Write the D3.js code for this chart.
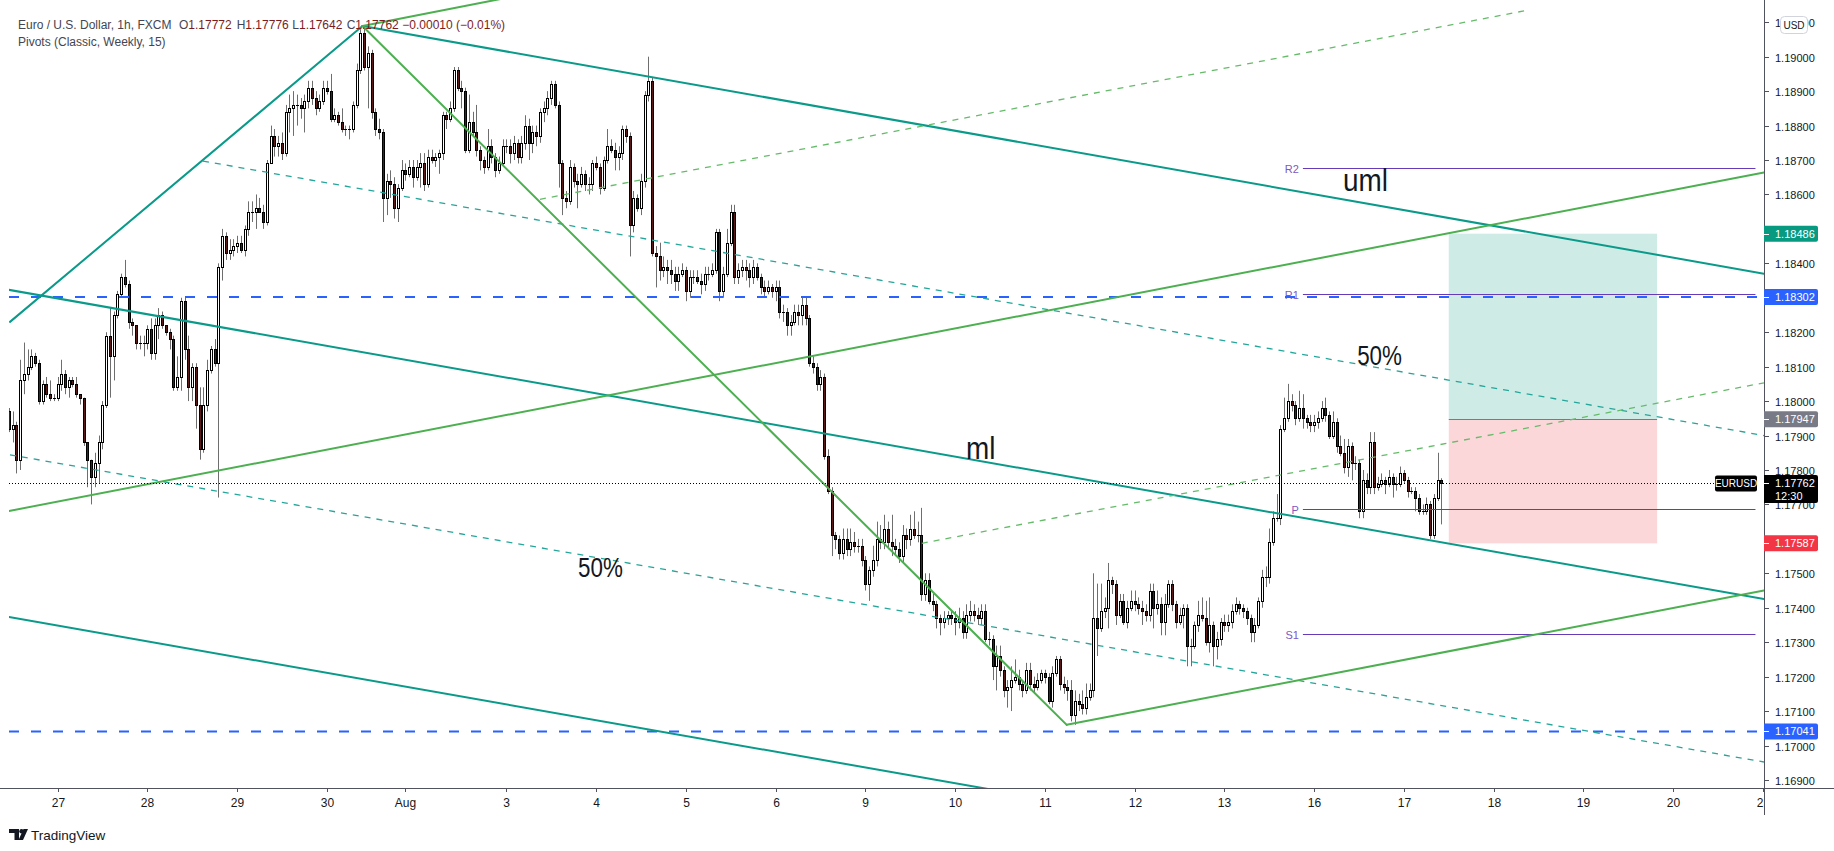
<!DOCTYPE html>
<html><head><meta charset="utf-8">
<script src="https://cdn.jsdelivr.net/npm/d3@7"></script>
<style>
html,body{margin:0;padding:0;background:#fff;}
svg{display:block;}
text{font-family:"Liberation Sans",Arial,sans-serif;}
</style></head><body>
<svg id="chart" width="1834" height="851"></svg>
<script>
// ---------------- DATA ----------------
// hourly bars; bar index 0 = Jul 27 00:00, first bar is index -13
const startIndex = -13;
const opens = [
1.1797,1.1792,1.1793,1.1783,1.1806,1.1808,1.1810,1.1813,1.1811,1.1800,
1.1805,1.1802,1.1801,1.1801,1.1805,1.1808,1.1804,1.1806,1.1805,1.1802,
1.1801,1.1788,1.1783,1.1778,1.1782,1.1788,1.1799,1.1819,1.1813,1.1825,
1.1831,1.1836,1.1834,1.1823,1.1822,1.1817,1.1817,1.1817,1.1821,1.1814,
1.1822,1.1825,1.1822,1.1820,1.1818,1.1804,1.1807,1.1829,1.1815,1.1804,
1.1810,1.1799,1.1786,1.1799,1.1809,1.1815,1.1811,1.1839,1.1848,1.1843,
1.1844,1.1845,1.1846,1.1844,1.1850,1.1855,1.1855,1.1856,1.1855,1.1852,
1.1869,1.1877,1.1874,1.1875,1.1872,1.1884,1.1885,1.1886,1.1886,1.1885,
1.1887,1.1891,1.1888,1.1885,1.1887,1.1891,1.1890,1.1882,1.1883,1.1881,
1.1879,1.1879,1.1879,1.1886,1.1896,1.1907,1.1897,1.1901,1.1884,1.1879,
1.1878,1.1859,1.1864,1.1863,1.1856,1.1862,1.1867,1.1866,1.1868,1.1865,
1.1868,1.1869,1.1863,1.1871,1.1870,1.1871,1.1872,1.1883,1.1882,1.1885,
1.1896,1.1891,1.1890,1.1873,1.1881,1.1878,1.1873,1.1870,1.1868,1.1874,
1.1871,1.1867,1.1869,1.1874,1.1874,1.1872,1.1875,1.1871,1.1875,1.1880,
1.1875,1.1878,1.1877,1.1884,1.1885,1.1888,1.1892,1.1886,1.1869,1.1859,
1.1858,1.1868,1.1864,1.1863,1.1866,1.1863,1.1863,1.1869,1.1868,1.1862,
1.1870,1.1874,1.1873,1.1871,1.1872,1.1879,1.1877,1.1851,1.1859,1.1856,
1.1864,1.1889,1.1893,1.1843,1.1842,1.1838,1.1839,1.1838,1.1837,1.1835,
1.1837,1.1838,1.1832,1.1836,1.1836,1.1835,1.1834,1.1837,1.1837,1.1838,
1.1849,1.1832,1.1837,1.1846,1.1855,1.1836,1.1838,1.1839,1.1838,1.1836,
1.1839,1.1836,1.1833,1.1832,1.1833,1.1832,1.1833,1.1826,1.1826,1.1822,
1.1823,1.1826,1.1825,1.1828,1.1824,1.1811,1.1810,1.1805,1.1807,1.1784,
1.1774,1.1761,1.1760,1.1756,1.1760,1.1757,1.1759,1.1758,1.1758,1.1754,
1.1747,1.1751,1.1754,1.1760,1.1759,1.1763,1.1759,1.1758,1.1757,1.1755,
1.1761,1.1760,1.1763,1.1761,1.1761,1.1744,1.1748,1.1742,1.1741,1.1737,
1.1736,1.1737,1.1738,1.1737,1.1736,1.1737,1.1733,1.1738,1.1739,1.1738,
1.1737,1.1739,1.1731,1.1731,1.1723,1.1726,1.1722,1.1716,1.1717,1.1719,
1.1720,1.1718,1.1716,1.1722,1.1718,1.1717,1.1719,1.1721,1.1720,1.1713,
1.1721,1.1725,1.1718,1.1717,1.1716,1.1709,1.1713,1.1712,1.1711,1.1714,
1.1716,1.1737,1.1734,1.1739,1.1740,1.1748,1.1747,1.1738,1.1742,1.1736,
1.1740,1.1742,1.1741,1.1740,1.1739,1.1738,1.1745,1.1740,1.1741,1.1736,
1.1741,1.1747,1.1741,1.1736,1.1738,1.1740,1.1729,1.1729,1.1735,1.1738,
1.1737,1.1730,1.1735,1.1729,1.1731,1.1736,1.1735,1.1736,1.1739,1.1741,
1.1740,1.1739,1.1737,1.1733,1.1735,1.1742,1.1749,1.1749,1.1759,1.1766,
1.1766,1.1792,1.1795,1.1800,1.1799,1.1795,1.1798,1.1795,1.1794,1.1793,
1.1794,1.1795,1.1798,1.1796,1.1790,1.1794,1.1787,1.1785,1.1781,1.1787,
1.1782,1.1782,1.1768,1.1777,1.1775,1.1788,1.1775,1.1776,1.1777,1.1776,
1.1778,1.1776,1.1776,1.1779,1.1777,1.1774,1.1774,1.1772,1.1768,1.1768,
1.1770,1.1761,1.1772,1.17772];
const highs = [
1.1798,1.1797,1.1794,1.1812,1.1817,1.1815,1.1815,1.1814,1.1812,1.1806,
1.1807,1.1806,1.1802,1.1807,1.1812,1.1809,1.1807,1.1807,1.1807,1.1802,
1.1801,1.1788,1.1783,1.1785,1.1790,1.1800,1.1820,1.1827,1.1826,1.1832,
1.1837,1.1841,1.1835,1.1824,1.1822,1.1819,1.1819,1.1822,1.1824,1.1824,
1.1827,1.1826,1.1822,1.1821,1.1819,1.1813,1.1830,1.1830,1.1819,1.1811,
1.1811,1.1804,1.1804,1.1812,1.1816,1.1818,1.1840,1.1850,1.1849,1.1847,
1.1847,1.1848,1.1848,1.1851,1.1858,1.1858,1.1860,1.1859,1.1857,1.1870,
1.1880,1.1879,1.1877,1.1878,1.1886,1.1889,1.1890,1.1889,1.1888,1.1889,
1.1893,1.1893,1.1890,1.1889,1.1893,1.1893,1.1895,1.1885,1.1884,1.1885,
1.1880,1.1880,1.1887,1.1898,1.1908,1.1909,1.1903,1.1902,1.1885,1.1882,
1.1879,1.1866,1.1867,1.1865,1.1863,1.1870,1.1869,1.1870,1.1870,1.1870,
1.1872,1.1872,1.1873,1.1873,1.1872,1.1873,1.1884,1.1884,1.1887,1.1897,
1.1897,1.1893,1.1891,1.1889,1.1884,1.1886,1.1874,1.1871,1.1879,1.1876,
1.1872,1.1871,1.1876,1.1876,1.1876,1.1877,1.1876,1.1877,1.1883,1.1882,
1.1880,1.1880,1.1885,1.1887,1.1890,1.1893,1.1893,1.1887,1.1870,1.1861,
1.1870,1.1869,1.1866,1.1868,1.1867,1.1865,1.1870,1.1871,1.1869,1.1871,
1.1879,1.1876,1.1875,1.1874,1.1880,1.1880,1.1878,1.1861,1.1860,1.1866,
1.1890,1.1900,1.1894,1.1845,1.1846,1.1842,1.1841,1.1841,1.1839,1.1839,
1.1840,1.1839,1.1838,1.1838,1.1838,1.1837,1.1839,1.1839,1.1840,1.1850,
1.1850,1.1839,1.1850,1.1857,1.1857,1.1840,1.1841,1.1841,1.1840,1.1841,
1.1840,1.1837,1.1835,1.1835,1.1834,1.1835,1.1835,1.1828,1.1827,1.1825,
1.1828,1.1828,1.1830,1.1830,1.1825,1.1813,1.1811,1.1809,1.1808,1.1786,
1.1775,1.1762,1.1761,1.1763,1.1763,1.1763,1.1762,1.1760,1.1760,1.1755,
1.1752,1.1758,1.1765,1.1764,1.1767,1.1765,1.1767,1.1760,1.1759,1.1764,
1.1763,1.1767,1.1768,1.1765,1.1769,1.1750,1.1750,1.1744,1.1742,1.1738,
1.1739,1.1739,1.1739,1.1739,1.1740,1.1739,1.1741,1.1742,1.1741,1.1740,
1.1741,1.1741,1.1733,1.1732,1.1729,1.1729,1.1723,1.1719,1.1723,1.1725,
1.1722,1.1719,1.1724,1.1724,1.1720,1.1721,1.1722,1.1722,1.1721,1.1723,
1.1726,1.1726,1.1720,1.1719,1.1719,1.1716,1.1715,1.1716,1.1718,1.1718,
1.1750,1.1747,1.1747,1.1743,1.1753,1.1749,1.1748,1.1744,1.1744,1.1742,
1.1745,1.1745,1.1743,1.1742,1.1741,1.1747,1.1747,1.1745,1.1743,1.1744,
1.1748,1.1748,1.1742,1.1740,1.1741,1.1741,1.1731,1.1736,1.1742,1.1743,
1.1742,1.1743,1.1736,1.1733,1.1737,1.1738,1.1738,1.1741,1.1743,1.1742,
1.1741,1.1740,1.1738,1.1737,1.1743,1.1751,1.1752,1.1763,1.1768,1.1773,
1.1793,1.1801,1.1805,1.1802,1.1800,1.1803,1.1802,1.1796,1.1796,1.1796,
1.1797,1.1800,1.1801,1.1797,1.1797,1.1795,1.1790,1.1789,1.1789,1.1788,
1.1784,1.1783,1.1780,1.1779,1.1791,1.1791,1.1778,1.1779,1.1778,1.1780,
1.1779,1.1778,1.1781,1.1780,1.1778,1.1775,1.1775,1.1773,1.1770,1.1772,
1.1771,1.1773,1.1785,1.17776];
const lows = [
1.1791,1.1788,1.1779,1.1780,1.1802,1.1806,1.1809,1.1810,1.1799,1.1799,
1.1801,1.1800,1.1800,1.1800,1.1803,1.1802,1.1801,1.1804,1.1801,1.1799,
1.1787,1.1775,1.1770,1.1775,1.1776,1.1786,1.1798,1.1801,1.1806,1.1824,
1.1830,1.1833,1.1821,1.1819,1.1815,1.1815,1.1813,1.1815,1.1812,1.1812,
1.1818,1.1821,1.1819,1.1815,1.1803,1.1803,1.1803,1.1812,1.1800,1.1800,
1.1792,1.1783,1.1785,1.1797,1.1808,1.1810,1.1772,1.1835,1.1841,1.1841,
1.1842,1.1843,1.1843,1.1842,1.1848,1.1852,1.1850,1.1855,1.1850,1.1851,
1.1869,1.1871,1.1871,1.1870,1.1871,1.1878,1.1877,1.1880,1.1882,1.1878,
1.1885,1.1886,1.1883,1.1884,1.1886,1.1889,1.1881,1.1881,1.1880,1.1878,
1.1877,1.1876,1.1878,1.1885,1.1895,1.1896,1.1885,1.1882,1.1877,1.1876,
1.1852,1.1854,1.1859,1.1853,1.1852,1.1861,1.1864,1.1865,1.1862,1.1864,
1.1862,1.1861,1.1862,1.1869,1.1868,1.1866,1.1870,1.1879,1.1881,1.1884,
1.1890,1.1885,1.1872,1.1872,1.1877,1.1871,1.1867,1.1866,1.1867,1.1869,
1.1865,1.1866,1.1868,1.1872,1.1869,1.1870,1.1869,1.1869,1.1873,1.1870,
1.1872,1.1874,1.1875,1.1881,1.1883,1.1886,1.1885,1.1862,1.1854,1.1856,
1.1857,1.1862,1.1856,1.1862,1.1861,1.1860,1.1861,1.1867,1.1860,1.1861,
1.1869,1.1872,1.1867,1.1867,1.1870,1.1875,1.1842,1.1849,1.1855,1.1854,
1.1862,1.1887,1.1842,1.1833,1.1835,1.1836,1.1834,1.1834,1.1832,1.1832,
1.1836,1.1829,1.1830,1.1834,1.1834,1.1831,1.1832,1.1835,1.1836,1.1837,
1.1829,1.1830,1.1836,1.1845,1.1834,1.1834,1.1836,1.1835,1.1833,1.1834,
1.1835,1.1831,1.1830,1.1831,1.1830,1.1829,1.1824,1.1823,1.1819,1.1819,
1.1822,1.1822,1.1822,1.1822,1.1810,1.1808,1.1803,1.1803,1.1783,1.1773,
1.1755,1.1757,1.1754,1.1754,1.1755,1.1755,1.1756,1.1756,1.1752,1.1745,
1.1742,1.1749,1.1752,1.1757,1.1757,1.1757,1.1755,1.1755,1.1753,1.1753,
1.1757,1.1758,1.1760,1.1759,1.1742,1.1742,1.1741,1.1739,1.1734,1.1732,
1.1734,1.1735,1.1735,1.1732,1.1734,1.1731,1.1731,1.1736,1.1736,1.1735,
1.1735,1.1730,1.1729,1.1719,1.1716,1.1720,1.1714,1.1711,1.1710,1.1718,
1.1716,1.1714,1.1715,1.1716,1.1715,1.1716,1.1718,1.1718,1.1712,1.1711,
1.1720,1.1716,1.1715,1.1713,1.1707,1.1706,1.1710,1.1709,1.1709,1.1713,
1.1714,1.1726,1.1733,1.1737,1.1734,1.1744,1.1735,1.1737,1.1735,1.1734,
1.1739,1.1739,1.1738,1.1735,1.1736,1.1736,1.1734,1.1738,1.1732,1.1732,
1.1740,1.1739,1.1734,1.1735,1.1734,1.1723,1.1723,1.1728,1.1733,1.1736,
1.1729,1.1727,1.1723,1.1725,1.1729,1.1733,1.1733,1.1734,1.1738,1.1738,
1.1737,1.1735,1.1730,1.1730,1.1734,1.1740,1.1746,1.1747,1.1758,1.1765,
1.1764,1.1791,1.1794,1.1797,1.1793,1.1794,1.1792,1.1792,1.1791,1.1791,
1.1792,1.1794,1.1794,1.1789,1.1789,1.1785,1.1784,1.1779,1.1778,1.1777,
1.1780,1.1766,1.1766,1.1773,1.1773,1.1773,1.1774,1.1775,1.1773,1.1775,
1.1772,1.1774,1.1775,1.1776,1.1772,1.1773,1.1768,1.1767,1.1767,1.1767,
1.1760,1.1760,1.1771,1.17642];
const closes = [
1.1792,1.1793,1.1783,1.1806,1.1808,1.1810,1.1813,1.1811,1.1800,1.1805,
1.1802,1.1801,1.1801,1.1805,1.1808,1.1804,1.1806,1.1805,1.1802,1.1801,
1.1788,1.1783,1.1778,1.1782,1.1788,1.1799,1.1819,1.1813,1.1825,1.1831,
1.1836,1.1834,1.1823,1.1822,1.1817,1.1817,1.1817,1.1821,1.1814,1.1822,
1.1825,1.1822,1.1820,1.1818,1.1804,1.1807,1.1829,1.1815,1.1804,1.1810,
1.1799,1.1786,1.1799,1.1809,1.1815,1.1811,1.1839,1.1848,1.1843,1.1844,
1.1845,1.1846,1.1844,1.1850,1.1855,1.1855,1.1856,1.1855,1.1852,1.1869,
1.1877,1.1874,1.1875,1.1872,1.1884,1.1885,1.1886,1.1886,1.1885,1.1887,
1.1891,1.1888,1.1885,1.1887,1.1891,1.1890,1.1882,1.1883,1.1881,1.1879,
1.1879,1.1879,1.1886,1.1896,1.1907,1.1897,1.1901,1.1884,1.1879,1.1878,
1.1859,1.1864,1.1863,1.1856,1.1862,1.1867,1.1866,1.1868,1.1865,1.1868,
1.1869,1.1863,1.1871,1.1870,1.1871,1.1872,1.1883,1.1882,1.1885,1.1896,
1.1891,1.1890,1.1873,1.1881,1.1878,1.1873,1.1870,1.1868,1.1874,1.1871,
1.1867,1.1869,1.1874,1.1874,1.1872,1.1875,1.1871,1.1875,1.1880,1.1875,
1.1878,1.1877,1.1884,1.1885,1.1888,1.1892,1.1886,1.1869,1.1859,1.1858,
1.1868,1.1864,1.1863,1.1866,1.1863,1.1863,1.1869,1.1868,1.1862,1.1870,
1.1874,1.1873,1.1871,1.1872,1.1879,1.1877,1.1851,1.1859,1.1856,1.1864,
1.1889,1.1893,1.1843,1.1842,1.1838,1.1839,1.1838,1.1837,1.1835,1.1837,
1.1838,1.1832,1.1836,1.1836,1.1835,1.1834,1.1837,1.1837,1.1838,1.1849,
1.1832,1.1837,1.1846,1.1855,1.1836,1.1838,1.1839,1.1838,1.1836,1.1839,
1.1836,1.1833,1.1832,1.1833,1.1832,1.1833,1.1826,1.1826,1.1822,1.1823,
1.1826,1.1825,1.1828,1.1824,1.1811,1.1810,1.1805,1.1807,1.1784,1.1774,
1.1761,1.1760,1.1756,1.1760,1.1757,1.1759,1.1758,1.1758,1.1754,1.1747,
1.1751,1.1754,1.1760,1.1759,1.1763,1.1759,1.1758,1.1757,1.1755,1.1761,
1.1760,1.1763,1.1761,1.1761,1.1744,1.1748,1.1742,1.1741,1.1737,1.1736,
1.1737,1.1738,1.1737,1.1736,1.1737,1.1733,1.1738,1.1739,1.1738,1.1737,
1.1739,1.1731,1.1731,1.1723,1.1726,1.1722,1.1716,1.1717,1.1719,1.1720,
1.1718,1.1716,1.1722,1.1718,1.1717,1.1719,1.1721,1.1720,1.1713,1.1721,
1.1725,1.1718,1.1717,1.1716,1.1709,1.1713,1.1712,1.1711,1.1714,1.1716,
1.1737,1.1734,1.1739,1.1740,1.1748,1.1747,1.1738,1.1742,1.1736,1.1740,
1.1742,1.1741,1.1740,1.1739,1.1738,1.1745,1.1740,1.1741,1.1736,1.1741,
1.1747,1.1741,1.1736,1.1738,1.1740,1.1729,1.1729,1.1735,1.1738,1.1737,
1.1730,1.1735,1.1729,1.1731,1.1736,1.1735,1.1736,1.1739,1.1741,1.1740,
1.1739,1.1737,1.1733,1.1735,1.1742,1.1749,1.1749,1.1759,1.1766,1.1766,
1.1792,1.1795,1.1800,1.1799,1.1795,1.1798,1.1795,1.1794,1.1793,1.1794,
1.1795,1.1798,1.1796,1.1790,1.1794,1.1787,1.1785,1.1781,1.1787,1.1782,
1.1782,1.1768,1.1777,1.1775,1.1788,1.1775,1.1776,1.1777,1.1776,1.1778,
1.1776,1.1776,1.1779,1.1777,1.1774,1.1774,1.1772,1.1768,1.1768,1.1770,
1.1761,1.1772,1.17772,1.17762];

// time axis (bar index of each day tick) and labels
const timeTickIdx = [0,24,48,72,93,120,144,168,192,216,240,264,288,312,336,360,384,408,432,456];
const timeTickLabels = ["27","28","29","30","Aug","3","4","5","6","9","10","11","12","13","16","17","18","19","20","23"];
// price axis ticks
const priceTicks = [1.169,1.170,1.171,1.172,1.173,1.174,1.175,1.176,1.177,1.178,1.179,1.180,1.181,1.182,1.183,1.184,1.185,1.186,1.187,1.188,1.189,1.190,1.191];

// weekly classic pivots
const pivotNames = ["R2","R1","P","S1"];
const pivotValues = [1.18676,1.18312,1.17686,1.17323];
const pivotStartIdx = 333, pivotEndIdx = 454;

// horizontal blue levels
const hLevels = [1.18302,1.17041];

// long position tool
const posTarget = 1.18486, posEntry = 1.17947, posStop = 1.17587;
const posStartIdx = 372, posEndIdx = 427.7;

// trend-line drawings (bar index, price)
const lineNames = ["T1","T2","T3","T4","TD1","TD2","G1","G2","G3","G4","GD1","GD2"];
const lineIdx0  = [-12.70, 81.55, -12.97, -12.97, 38.9, -12.70, 81.55, 81.55, 269.84, -12.97, 129.0, 231.1];
const linePx0   = [1.18230,1.19089,1.18323,1.17373,1.18697,1.17844,1.19089,1.19089,1.17060,1.17681,1.18586,1.17587];
const lineIdx1  = [81.55, 456.28, 456.28, 456.28, 456.28, 456.28, 145.0, 269.84, 456.28, 456.28, 392.6, 456.28];
const linePx1   = [1.19089,1.18370,1.17425,1.16478,1.17900,1.16952,1.19224,1.17060,1.17450,1.18664,1.19134,1.18053];

// text annotations (bar index, price at baseline)
const noteTexts = ["uml","50%","ml","50%"];
const noteIdx   = [343.7, 347.5, 242.9, 139.2];
const notePx    = [1.18610, 1.18105, 1.17832, 1.17489];

const symbolName = "EURUSD";
const countdown = "12:30";

// ---------------- STYLE / LAYOUT ----------------
const W = 1834, H = 851;
const plotLeft = 9, plotRight = 1764, plotBottom = 788;
const lineStyle = {
  T1:{c:"#0a9a8a",w:2,d:null}, T2:{c:"#0a9a8a",w:2,d:null}, T3:{c:"#0a9a8a",w:2,d:null}, T4:{c:"#0a9a8a",w:2,d:null},
  TD1:{c:"#26a69a",w:1.3,d:"6,6"}, TD2:{c:"#26a69a",w:1.3,d:"6,6"},
  G1:{c:"#4caf50",w:2,d:null}, G2:{c:"#4caf50",w:2,d:null}, G3:{c:"#4caf50",w:2,d:null}, G4:{c:"#4caf50",w:2,d:null},
  GD1:{c:"#66bb6a",w:1.3,d:"6,6"}, GD2:{c:"#66bb6a",w:1.3,d:"6,6"}
};
const noteStyle = [{fs:31,sx:0.9},{fs:28,sx:0.8},{fs:31,sx:0.9},{fs:28,sx:0.8}];

const x = d3.scaleLinear().domain([0,456]).range([57.5, 57.5+456*3.74]);
const y = d3.scaleLinear().domain([1.17,1.19]).range([745.5, 56.7]);

const svg = d3.select("#chart");
svg.append("rect").attr("width",W).attr("height",H).attr("fill","#fff");
const defs = svg.append("defs");
defs.append("clipPath").attr("id","plotClip").append("rect")
  .attr("x",plotLeft).attr("y",0).attr("width",plotRight-plotLeft).attr("height",plotBottom);
defs.append("clipPath").attr("id","timeClip").append("rect")
  .attr("x",0).attr("y",plotBottom).attr("width",plotRight).attr("height",H-plotBottom);

const plot = svg.append("g").attr("clip-path","url(#plotClip)");

// candles
const candles = opens.map((o,i)=>({i:startIndex+i,o,h:highs[i],l:lows[i],c:closes[i]}));
const cg = plot.append("g");
candles.forEach(d=>{
  const cx = Math.round(x(d.i));
  const hi = Math.max(d.h,d.o,d.c), lo = Math.min(d.l,d.o,d.c);
  cg.append("line").attr("x1",cx+0.5).attr("x2",cx+0.5)
    .attr("y1",y(hi)).attr("y2",y(lo)).attr("stroke","#6e6e6e").attr("stroke-width",1);
  const top = y(Math.max(d.o,d.c)), bot = y(Math.min(d.o,d.c));
  const up = d.c >= d.o;
  cg.append("rect").attr("x",cx-0.5).attr("y",Math.round(top)+0.5)
    .attr("width",2).attr("height",Math.max(0.01,Math.round(bot)-Math.round(top)))
    .attr("fill",up?"#ffffff":"#5c1717").attr("stroke","#000").attr("stroke-width",1);
});

// position tool boxes
plot.append("rect").attr("x",x(posStartIdx)).attr("width",x(posEndIdx)-x(posStartIdx))
  .attr("y",y(posTarget)).attr("height",y(posEntry)-y(posTarget)).attr("fill","rgba(8,153,129,0.2)");
plot.append("rect").attr("x",x(posStartIdx)).attr("width",x(posEndIdx)-x(posStartIdx))
  .attr("y",y(posEntry)).attr("height",y(posStop)-y(posEntry)).attr("fill","rgba(242,54,69,0.2)");
plot.append("line").attr("x1",x(posStartIdx)).attr("x2",x(posEndIdx))
  .attr("y1",Math.round(y(posEntry))+0.5).attr("y2",Math.round(y(posEntry))+0.5)
  .attr("stroke","#787b86").attr("stroke-width",1);

// pivots
pivotValues.forEach((v,k)=>{
  const yy = Math.round(y(v))+0.5;
  plot.append("line").attr("x1",x(pivotStartIdx)).attr("x2",x(pivotEndIdx)).attr("y1",yy).attr("y2",yy)
    .attr("stroke","#673ab7").attr("stroke-width",1.2);
  plot.append("text").attr("x",x(pivotStartIdx)-4).attr("y",yy+4).attr("text-anchor","end")
    .attr("font-size",11).attr("fill","#7e57c2").text(pivotNames[k]);
});

// blue dashed levels
hLevels.forEach(v=>{
  plot.append("line").attr("x1",plotLeft).attr("x2",plotRight).attr("y1",y(v)).attr("y2",y(v))
    .attr("stroke","#2962ff").attr("stroke-width",2).attr("stroke-dasharray","10,12");
});

// trend lines
lineNames.forEach((n,k)=>{
  const s = lineStyle[n];
  const l = plot.append("line").attr("x1",x(lineIdx0[k])).attr("y1",y(linePx0[k]))
    .attr("x2",x(lineIdx1[k])).attr("y2",y(linePx1[k]))
    .attr("stroke",s.c).attr("stroke-width",s.w).attr("stroke-linecap","round");
  if(s.d) l.attr("stroke-dasharray",s.d).attr("stroke-linecap","butt");
});

// annotations
noteTexts.forEach((t,k)=>{
  const st = noteStyle[k];
  plot.append("text").attr("transform",`translate(${x(noteIdx[k])},${y(notePx[k])}) scale(${st.sx},1)`)
    .attr("font-size",st.fs).attr("fill","#131722").text(t);
});

// current price dotted line
const lastClose = closes[closes.length-1];
plot.append("line").attr("x1",plotLeft).attr("x2",1714).attr("y1",Math.round(y(lastClose))+0.5).attr("y2",Math.round(y(lastClose))+0.5)
  .attr("stroke","#000").attr("stroke-width",1).attr("stroke-dasharray","1,2");

// ---------------- AXES ----------------
const axisColor = "#50535e";
// price axis
svg.append("line").attr("x1",plotRight+0.5).attr("x2",plotRight+0.5).attr("y1",0).attr("y2",815)
  .attr("stroke",axisColor).attr("stroke-width",1);
priceTicks.forEach(p=>{
  const yy = Math.round(y(p))+0.5;
  svg.append("line").attr("x1",plotRight).attr("x2",plotRight+5).attr("y1",yy).attr("y2",yy).attr("stroke",axisColor);
  svg.append("text").attr("x",1775).attr("y",yy+4).attr("font-size",11).attr("fill","#131722").text(p.toFixed(5));
});
// USD badge
svg.append("rect").attr("x",1780.5).attr("y",16.5).attr("width",27).attr("height",17).attr("rx",4)
  .attr("fill","#fff").attr("stroke","#d1d4dc");
svg.append("text").attr("x",1794).attr("y",28.5).attr("text-anchor","middle").attr("font-size",10).attr("fill","#131722").text("USD");

// colored price labels
function priceLabel(v,bg){
  const yy = y(v);
  svg.append("path").attr("d",`M${plotRight},${yy-8}H1816a2,2 0 0 1 2,2V${yy+6}a2,2 0 0 1 -2,2H${plotRight}Z`).attr("fill",bg);
  svg.append("line").attr("x1",plotRight).attr("x2",plotRight+5).attr("y1",Math.round(yy)+0.5).attr("y2",Math.round(yy)+0.5).attr("stroke","#fff");
  svg.append("text").attr("x",1775).attr("y",yy+4).attr("font-size",11).attr("fill","#fff").text(v.toFixed(5));
}
priceLabel(posTarget,"#089981");
priceLabel(hLevels[0],"#2962ff");
priceLabel(posEntry,"#787b86");
priceLabel(posStop,"#f23645");
priceLabel(hLevels[1],"#2962ff");
// last price label
{
  const yy = y(lastClose);
  svg.append("path").attr("d",`M${plotRight},${yy-8}H1816a2,2 0 0 1 2,2V${yy+18}a2,2 0 0 1 -2,2H${plotRight}Z`).attr("fill","#000");
  svg.append("line").attr("x1",plotRight).attr("x2",plotRight+5).attr("y1",Math.round(yy)+0.5).attr("y2",Math.round(yy)+0.5).attr("stroke","#fff");
  svg.append("text").attr("x",1775).attr("y",yy+4).attr("font-size",11).attr("fill","#fff").text(lastClose.toFixed(5));
  svg.append("text").attr("x",1775).attr("y",yy+17).attr("font-size",11).attr("fill","#fff").text(countdown);
  svg.append("rect").attr("x",1715).attr("y",yy-7.5).attr("width",42).attr("height",16).attr("rx",2).attr("fill","#000");
  svg.append("text").attr("x",1736).attr("y",yy+4).attr("text-anchor","middle").attr("font-size",10).attr("fill","#fff").text(symbolName);
}

// time axis
svg.append("line").attr("x1",0).attr("x2",W).attr("y1",plotBottom+0.5).attr("y2",plotBottom+0.5).attr("stroke",axisColor);
const tg = svg.append("g").attr("clip-path","url(#timeClip)");
timeTickIdx.forEach((ti,k)=>{
  const xx = Math.round(x(ti))+0.5;
  tg.append("line").attr("x1",xx).attr("x2",xx).attr("y1",plotBottom).attr("y2",plotBottom+4).attr("stroke",axisColor);
  tg.append("text").attr("x",xx).attr("y",807).attr("text-anchor","middle").attr("font-size",12).attr("fill","#131722").text(timeTickLabels[k]);
});

// ---------------- HEADER ----------------
const hdrGray = "#434651", hdrRed = "#7a1c1c";
svg.append("text").attr("x",18).attr("y",29).attr("font-size",12).attr("fill",hdrGray).text("Euro / U.S. Dollar, 1h, FXCM");
const ohlcLbl = ["O","H","L","C"], ohlcVal = [opens[opens.length-1],highs[highs.length-1],lows[lows.length-1],lastClose];
const ohlcX = [179,236.7,292.3,346.7];
ohlcLbl.forEach((l,k)=>{
  const t = svg.append("text").attr("x",ohlcX[k]).attr("y",29).attr("font-size",12);
  t.append("tspan").attr("fill",hdrGray).text(l);
  t.append("tspan").attr("fill",hdrRed).text(ohlcVal[k].toFixed(5));
});
svg.append("text").attr("x",402.3).attr("y",29).attr("font-size",12).attr("fill",hdrRed).text("\u22120.00010 (\u22120.01%)");
svg.append("text").attr("x",18).attr("y",46).attr("font-size",12).attr("fill",hdrGray).text("Pivots (Classic, Weekly, 15)");

// TradingView logo
const lg = svg.append("g").attr("fill","#131722");
lg.append("path").attr("d","M9,829h10v11h-4.5v-7h-5.5z");
lg.append("circle").attr("cx",21.5).attr("cy",831.2).attr("r",2.2);
lg.append("path").attr("d","M23.5,829h4.5l-5,11h-4.5z");
svg.append("text").attr("x",31).attr("y",840).attr("font-size",13.5).attr("fill","#131722").text("TradingView");
</script>
</body></html>
